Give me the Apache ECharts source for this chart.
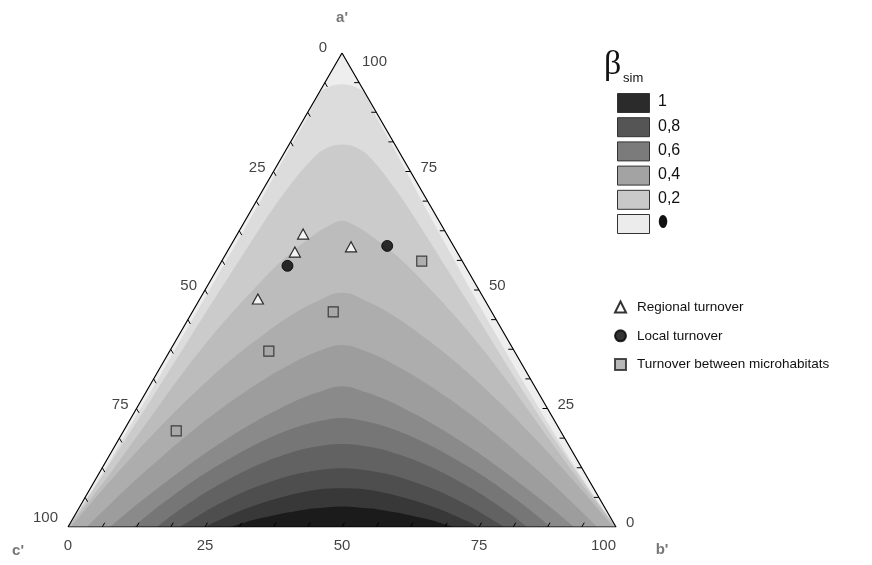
<!DOCTYPE html>
<html><head><meta charset="utf-8">
<script src="https://cdn.jsdelivr.net/npm/echarts@6/dist/echarts.min.js"></script>
<style>html,body{margin:0;padding:0;background:#fff}#c{width:872px;height:565px}</style>
</head><body><div id="c"></div>
<script>
// ===== data (ternary percentages [a', b', c']) =====
const regionalTurnover = [[61.8,12.0,26.2],[58.0,12.4,29.6],[59.1,22.1,18.8],[48.1,10.6,41.3]];
const localTurnover = [[59.3,28.6,12.1],[55.1,12.5,32.4]];
const microhabitatTurnover = [[56.1,36.5,7.4],[45.4,25.7,28.9],[37.1,18.1,44.8],[20.3,9.6,70.1]];
const tickLabelValues = [0,25,50,75,100];
const tickValues = [6.25,12.5,18.75,25,31.25,37.5,43.75,50,56.25,62.5,68.75,75,81.25,87.5,93.75];
const legendLevelLabels = ['1','0,8','0,6','0,4','0,2','\u2B2E'];
const legendLevelColors = ['#2b2b2b','#555555','#7b7b7b','#a3a3a3','#c9c9c9','#ececec'];
const seriesNames = ['Regional turnover','Local turnover','Turnover between microhabitats'];
// contour band colours, from outer (low) to inner (high)
const bandColors = ['#eeeeee','#dcdcdc','#cbcbcb','#bcbcbc','#adadad','#9d9d9d','#8a8a8a','#767676','#626262','#4e4e4e','#383838','#1b1b1b'];
// contour boundaries: [position along the base (%), a' (%)]
const contour1 = [[0,0],[2.9,5],[5.6,10],[10.7,20],[15.8,30],[20.8,40],[25.8,50],[30.8,60],[35.7,70],[40.5,80],[43.5,86],[45.9,91.5],[47.5,92.8],[50,93.4],
  [52.5,92.8],[54.1,91.5],[56.5,86],[59.4,80],[64,70],[68.7,60],[73.5,50],[78.4,40],[83.4,30],[88.6,20],[94,10],[96.9,5],[100,0]];
const contour2 = [[0,0],[5,8.6],[10,17.6],[15,26.6],[20,35.8],[25,45],[30,54],[35,63],[40,71.3],[45,78.1],[47.5,80.1],[50,80.7],
  [52.5,80.1],[55,78.1],[59.7,71.3],[64.5,63],[69.4,54],[74.3,45],[79.2,35.8],[84.2,26.6],[89.3,17.6],[94.6,8.6],[100,0]];
const contour3Left = [[0,0],[5,7.2],[10,15],[15,23],[20,31],[25,38.5],[30,45.3],[35,51.5],[40,57.2],[45,61.7],[47.5,63.5],[50,64.6]];
const contour4Left = [[0.5,0],[5.5,6.8],[10.4,13.2],[15.4,19.4],[20.3,25.2],[25.3,30.7],[30.2,35.7],[35.2,40.2],[40.1,44.2],[45.1,47.4],[50,49.4]];
const contour5Left = [[3.4,0],[8.1,5.3],[12.7,10.3],[17.4,15.1],[22,19.6],[26.7,23.9],[31.4,27.8],[36,31.3],[40.7,34.4],[45.3,36.9],[50,38.4]];
const contour6Left = [[7.7,0],[11.9,4.1],[16.2,8],[20.4,11.7],[24.6,15.2],[28.9,18.5],[33.1,21.5],[37.3,24.2],[41.5,26.6],[45.8,28.5],[50,29.7]];
const contour7Left = [[11.9,0],[15.7,3.6],[19.5,6.9],[23.3,10],[27.1,12.8],[31,15.4],[34.8,17.7],[38.6,19.7],[42.4,21.3],[46.2,22.4],[50,23]];
const contour8Left = [[16.2,0],[19.6,3],[23,5.7],[26.3,8.1],[29.7,10.3],[33.1,12.3],[36.5,14],[39.9,15.4],[43.2,16.5],[46.6,17.2],[50,17.5]];
const contour9Left = [[20.4,0],[23.4,2.1],[26.3,4.1],[29.3,5.9],[32.2,7.5],[35.2,8.8],[38.2,10],[41.1,11],[44.1,11.7],[47,12.2],[50,12.4]];
const contour10Left = [[25,0],[27.5,1.4],[30,2.7],[32.5,3.9],[35,4.9],[37.5,5.8],[40,6.6],[42.5,7.3],[45,7.8],[47.5,8.1],[50,8.2]];
const contour11Left = [[29.5,0],[31.6,0.7],[33.6,1.4],[35.7,2],[37.7,2.5],[39.8,3],[41.8,3.4],[43.9,3.8],[45.9,4],[48,4.2],[50,4.3]];

// ===== helpers =====
const toXY = ([a,b,c]) => [b + a/2, a];
const mirrorHalf = half => half.concat(half.slice(0,-1).reverse().map(([x,a]) => [100-x, a]));
const contours = [contour1, contour2, mirrorHalf(contour3Left), mirrorHalf(contour4Left), mirrorHalf(contour5Left),
  mirrorHalf(contour6Left), mirrorHalf(contour7Left), mirrorHalf(contour8Left), mirrorHalf(contour9Left),
  mirrorHalf(contour10Left), mirrorHalf(contour11Left)];
const cornerA = toXY([100,0,0]), cornerB = toXY([0,100,0]), cornerC = toXY([0,0,100]);
const FONT = 'Liberation Sans';

const series = [];
// base (lowest) band fills the whole triangle
series.push({type:'line', data:[cornerC, cornerA, cornerB], symbol:'none', lineStyle:{opacity:0},
  areaStyle:{color:bandColors[0], opacity:1}, z:2, silent:true, animation:false});
contours.forEach((pts, i) => {
  series.push({type:'line', data:pts, symbol:'none', smooth:0.4, lineStyle:{opacity:0},
    areaStyle:{color:bandColors[i+1], opacity:1, origin:'start'}, z:2, silent:true, animation:false});
});
// white mask outside triangle edges (only inside the plotting grid)
series.push({type:'custom', z:3, silent:true, animation:false,
  data:[[0]], renderItem:(params, api) => {
    const tl = api.coord([0,100]), tr = api.coord([100,100]);
    const A = api.coord(cornerA), B = api.coord(cornerB), C = api.coord(cornerC);
    return {type:'group', children:[
      {type:'polygon', shape:{points:[[C[0]-1,C[1]],A,[tl[0]-1,tl[1]]]}, style:{fill:'#fff'}},
      {type:'polygon', shape:{points:[[B[0]+1,B[1]],A,[tr[0]+1,tr[1]]]}, style:{fill:'#fff'}}
    ]};
  }});
// triangle outline
series.push({type:'line', data:[cornerC, cornerA, cornerB, cornerC], symbol:'none',
  lineStyle:{color:'#000', width:1.2}, z:4, silent:true, animation:false});
// ticks
const tickItems = [];
tickValues.forEach(t => {
  tickItems.push(toXY([0, t, 100-t]).concat([0.5, -0.866]));   // b' (bottom)
  tickItems.push(toXY([100-t, 0, t]).concat([0.5, 0.866]));    // c' (left)
  tickItems.push(toXY([t, 100-t, 0]).concat([-1, 0]));         // a' (right)
});
series.push({type:'custom', z:4, silent:true, animation:false, data:tickItems, encode:{x:0,y:1},
  renderItem:(params, api) => {
    const p = api.coord([api.value(0), api.value(1)]);
    const L = 5;
    return {type:'line', shape:{x1:p[0], y1:p[1], x2:p[0]+api.value(2)*L, y2:p[1]+api.value(3)*L},
      style:{stroke:'#000', lineWidth:1}};
  }});
// tick labels
const labelItems = [];
const lblStyle = {show:true, position:'inside', fontFamily:FONT, fontSize:15, color:'#111', verticalAlign:'middle'};
tickLabelValues.forEach((v, i) => {
  const last = i === tickLabelValues.length - 1, first = i === 0;
  labelItems.push({value:toXY([100-v, 0, v]), label:Object.assign({}, lblStyle,
    {formatter:String(v), align:'right', offset: first ? [-15,-5] : (last ? [-10,-9] : [-8,-4])})});
  labelItems.push({value:toXY([v, 100-v, 0]), label:Object.assign({}, lblStyle,
    {formatter:String(v), align:'left', offset: last ? [20,9] : [10,-4]})});
  labelItems.push({value:toXY([0, v, 100-v]), label:Object.assign({}, lblStyle,
    {formatter:String(v), align: last ? 'right' : 'center', offset:[0,19]})});
});
const nameStyle = {show:true, position:'inside', fontFamily:FONT, fontSize:15, fontWeight:'bold', color:'#555', verticalAlign:'middle', align:'center'};
labelItems.push({value:cornerA, label:Object.assign({}, nameStyle, {formatter:"a'", offset:[0,-35]})});
labelItems.push({value:cornerC, label:Object.assign({}, nameStyle, {formatter:"c'", offset:[-50,24]})});
labelItems.push({value:cornerB, label:Object.assign({}, nameStyle, {formatter:"b'", offset:[46,23]})});
series.push({type:'scatter', z:5, silent:true, animation:false, symbolSize:0, data:labelItems});
// data markers
const markerBase = {type:'scatter', z:6, animation:false};
series.push(Object.assign({}, markerBase, {name:seriesNames[0], data:regionalTurnover.map(toXY), symbol:'triangle', symbolSize:[11,10],
  itemStyle:{color:'#fff', borderColor:'#000', borderWidth:1.2}}));
series.push(Object.assign({}, markerBase, {name:seriesNames[1], data:localTurnover.map(toXY), symbol:'circle', symbolSize:11,
  itemStyle:{color:'#000', borderColor:'#000', borderWidth:1}}));
series.push(Object.assign({}, markerBase, {name:seriesNames[2], data:microhabitatTurnover.map(toXY), symbol:'rect', symbolSize:10,
  itemStyle:{color:'#a6a6a6', borderColor:'#222', borderWidth:1.2}}));

// legend swatches for beta_sim
const graphics = [
  {type:'text', z:100, left:604, top:48, style:{text:'\u03B2', fontFamily:'Liberation Serif', fontSize:34, fill:'#111'}},
  {type:'text', z:100, left:623, top:72, style:{text:'sim', fontFamily:FONT, fontSize:13, fill:'#111'}}
];
legendLevelLabels.forEach((lab, i) => {
  const top = 93 + i*24.2;
  graphics.push({type:'rect', z:100, left:617, top:top, shape:{width:32, height:19},
    style:{fill:legendLevelColors[i], stroke:'#333', lineWidth:1}});
  graphics.push({type:'text', z:100, left:658, top:top+1, style:{text:lab, fontFamily: i===5 ? 'DejaVu Sans' : FONT, fontSize:16, fill:'#111'}});
});

const option = {
  animation:false,
  backgroundColor:'#fff',
  grid:{left:68, right:256, top:53, bottom:38, containLabel:false},
  xAxis:{type:'value', min:0, max:100, show:false},
  yAxis:{type:'value', min:0, max:100, show:false},
  legend:{orient:'vertical', left:609, top:295, itemWidth:11, itemHeight:11, itemGap:14.8,
    data:seriesNames, textStyle:{fontFamily:FONT, fontSize:13.5, color:'#111', padding:[0,0,0,6]}, selectedMode:false},
  graphic:graphics,
  series:series
};
const chart = echarts.init(document.getElementById('c'));
chart.setOption(option);
</script></body></html>
